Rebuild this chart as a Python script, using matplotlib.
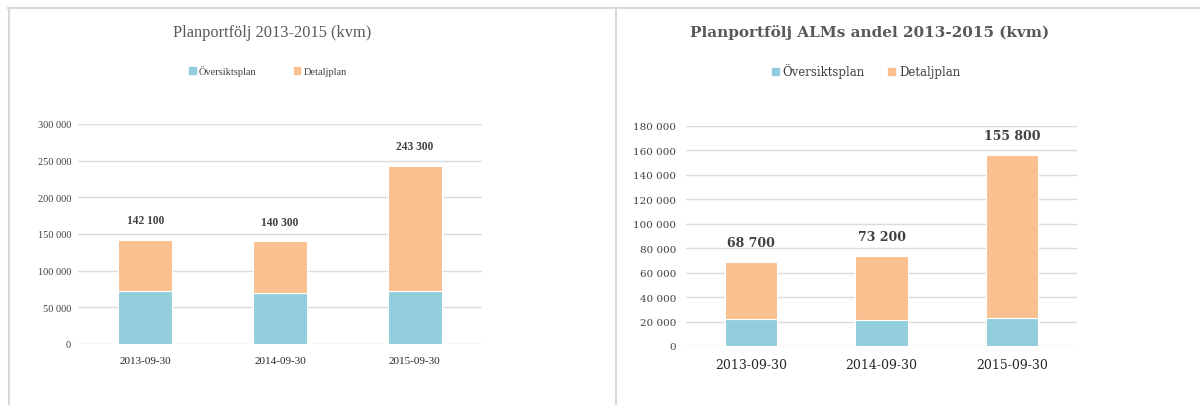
import matplotlib.pyplot as plt
from matplotlib.lines import Line2D
from matplotlib.patches import Patch
from matplotlib.ticker import FuncFormatter

dates = ["2013-09-30", "2014-09-30", "2015-09-30"]
series_names = ["Översiktsplan", "Detaljplan"]

# Planportfölj totalt
total_oversikt = [72000, 70000, 72500]
total_detalj = [70100, 70300, 170800]
total_sum = [142100, 140300, 243300]

# ALMs andel
alm_oversikt = [22000, 21500, 22500]
alm_detalj = [46700, 51700, 133300]
alm_sum = [68700, 73200, 155800]

BLUE = "#92cddc"
ORANGE = "#fac090"
GRID = "#dcdcdc"
TEXT = "#404040"
TITLE = "#595959"
FONT_LEFT = "Liberation Serif"   # narrower, closer to the squeezed left chart
FONT_RIGHT = "DejaVu Serif"

W, H = 1200, 406
fig = plt.figure(figsize=(W / 100, H / 100), dpi=100)


def px_axes(x0, y0, x1, y1):
    # pixel box (top-left origin) -> figure fraction
    return fig.add_axes([x0 / W, 1 - y1 / H, (x1 - x0) / W, (y1 - y0) / H])


def space_thousands(v, _pos=None):
    return f"{int(v):,}".replace(",", " ")


def draw_panel(ax, low, high, sums, ymax, step, font, ytick_fs, xtick_fs,
               label_fs, pad, lab_off):
    x = range(len(dates))
    ax.bar(x, low, width=0.4, color=BLUE, edgecolor="white", linewidth=0.8, zorder=3)
    ax.bar(x, high, bottom=low, width=0.4, color=ORANGE, edgecolor="white",
           linewidth=0.8, zorder=3)
    for xi, s in zip(x, sums):
        ax.annotate(space_thousands(s), (xi, s), xytext=(0, lab_off),
                    textcoords="offset points", ha="center", va="center",
                    fontsize=label_fs, fontweight="bold", color=TEXT, family=font)
    ax.set_xlim(-0.5, len(dates) - 0.5)
    ax.set_ylim(0, ymax)
    ax.set_yticks(range(0, ymax + 1, step))
    ax.yaxis.set_major_formatter(FuncFormatter(space_thousands))
    ax.set_xticks(list(x))
    ax.set_xticklabels(dates)
    ax.grid(axis="y", color=GRID, linewidth=1, zorder=0)
    for sp in ax.spines.values():
        sp.set_visible(False)
    ax.tick_params(axis="y", length=0, pad=pad, labelsize=ytick_fs, colors=TEXT)
    ax.tick_params(axis="x", length=0, pad=9, labelsize=xtick_fs, colors="#262626")
    for lbl in ax.get_xticklabels() + ax.get_yticklabels():
        lbl.set_family(font)


ax1 = px_axes(78, 125, 482, 345)
draw_panel(ax1, total_oversikt, total_detalj, total_sum, 300000, 50000,
           FONT_LEFT, 7.5, 8, 8.3, 5, 14)

ax2 = px_axes(686, 126.7, 1077, 347)
draw_panel(ax2, alm_oversikt, alm_detalj, alm_sum, 180000, 20000,
           FONT_RIGHT, 7.5, 9, 9, 7, 14)

fig.text(272 / W, 1 - 33 / H, "Planportfölj 2013-2015 (kvm)", ha="center", va="center",
         fontsize=11.8, color=TITLE, family=FONT_LEFT)
fig.text(870 / W, 1 - 33 / H, "Planportfölj ALMs andel 2013-2015 (kvm)", ha="center",
         va="center", fontsize=11, color=TITLE, family=FONT_RIGHT, fontweight="bold")

handles = [Patch(color=BLUE), Patch(color=ORANGE)]
for cx, font, fs, colsp in [(268, FONT_LEFT, 7.5, 3.6), (866, FONT_RIGHT, 8.5, 2.0)]:
    fig.legend(handles, series_names, loc="center", bbox_to_anchor=(cx / W, 1 - 72 / H),
               ncol=2, frameon=False, handlelength=0.6, handleheight=0.6,
               handletextpad=0.3, columnspacing=colsp,
               prop={"family": font, "size": fs}, labelcolor=TEXT)

# panel frames
line_kw = dict(color="#d9d9d9", linewidth=1.5, transform=fig.transFigure)
fig.add_artist(Line2D([8 / W, 1], [1 - 8.5 / H, 1 - 8.5 / H], **line_kw))
fig.add_artist(Line2D([8.5 / W, 8.5 / W], [0, 1 - 8.5 / H], **line_kw))
fig.add_artist(Line2D([616 / W, 616 / W], [0, 1 - 8.5 / H], **line_kw))

fig.savefig("out.png", dpi=100)
